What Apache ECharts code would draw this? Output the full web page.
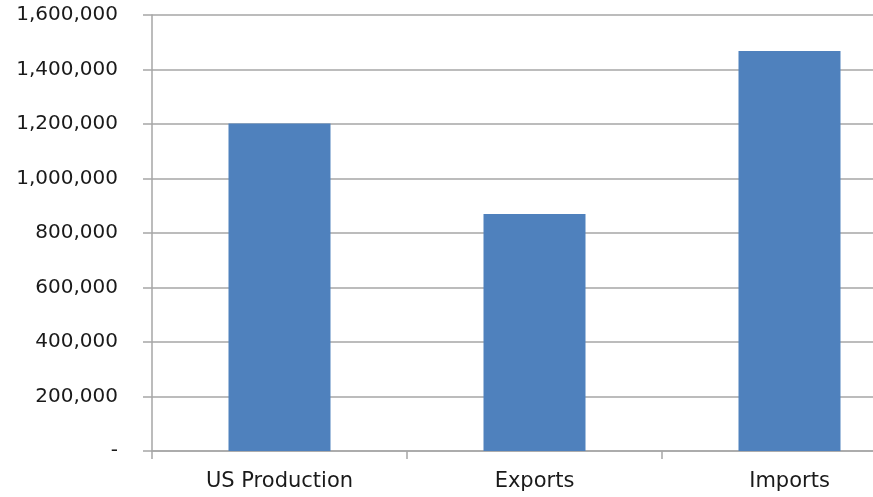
<!DOCTYPE html>
<html>
<head>
<meta charset="utf-8">
<script src="https://cdn.jsdelivr.net/npm/echarts@6/dist/echarts.min.js"></script>
<style>
html,body{margin:0;padding:0;background:#fff;overflow:hidden;width:873px;height:497px;}
#chart{width:920px;height:497px;}
</style>
</head>
<body>
<div id="chart"></div>
<script>
const categories = ['US Production', 'Exports', 'Imports'];
const values = [1202000, 870000, 1468000];
const yTicks = { min: 0, max: 1600000, interval: 200000 };

const chart = echarts.init(document.getElementById('chart'), null, { renderer: 'canvas' });
const fontFamily = '"DejaVu Sans", "Noto Sans", sans-serif';
chart.setOption({
  animation: false,
  backgroundColor: '#ffffff',
  grid: { left: 152, top: 15, width: 765, height: 436, containLabel: false },
  xAxis: {
    type: 'category',
    data: categories,
    boundaryGap: true,
    axisLine: { show: true, lineStyle: { color: '#a6a6a6', width: 1.5 } },
    axisTick: { show: true, length: 8, lineStyle: { color: '#a6a6a6', width: 1.5 } },
    axisLabel: { color: '#1a1a1a', fontSize: 21, fontFamily: fontFamily, margin: 20 }
  },
  yAxis: {
    type: 'value',
    min: yTicks.min,
    max: yTicks.max,
    interval: yTicks.interval,
    axisLine: { show: true, lineStyle: { color: '#a6a6a6', width: 1.5 } },
    axisTick: { show: true, length: 9, lineStyle: { color: '#a6a6a6', width: 1.5 } },
    splitLine: { show: true, lineStyle: { color: '#a6a6a6', width: 1.5 } },
    axisLabel: {
      color: '#1a1a1a', fontSize: 20, fontFamily: fontFamily, margin: 34,
      formatter: v => v === 0 ? '-' : v.toLocaleString('en-US')
    }
  },
  series: [{
    type: 'bar',
    data: values,
    barWidth: '40%',
    itemStyle: { color: '#4f81bd' }
  }]
});
</script>
</body>
</html>
